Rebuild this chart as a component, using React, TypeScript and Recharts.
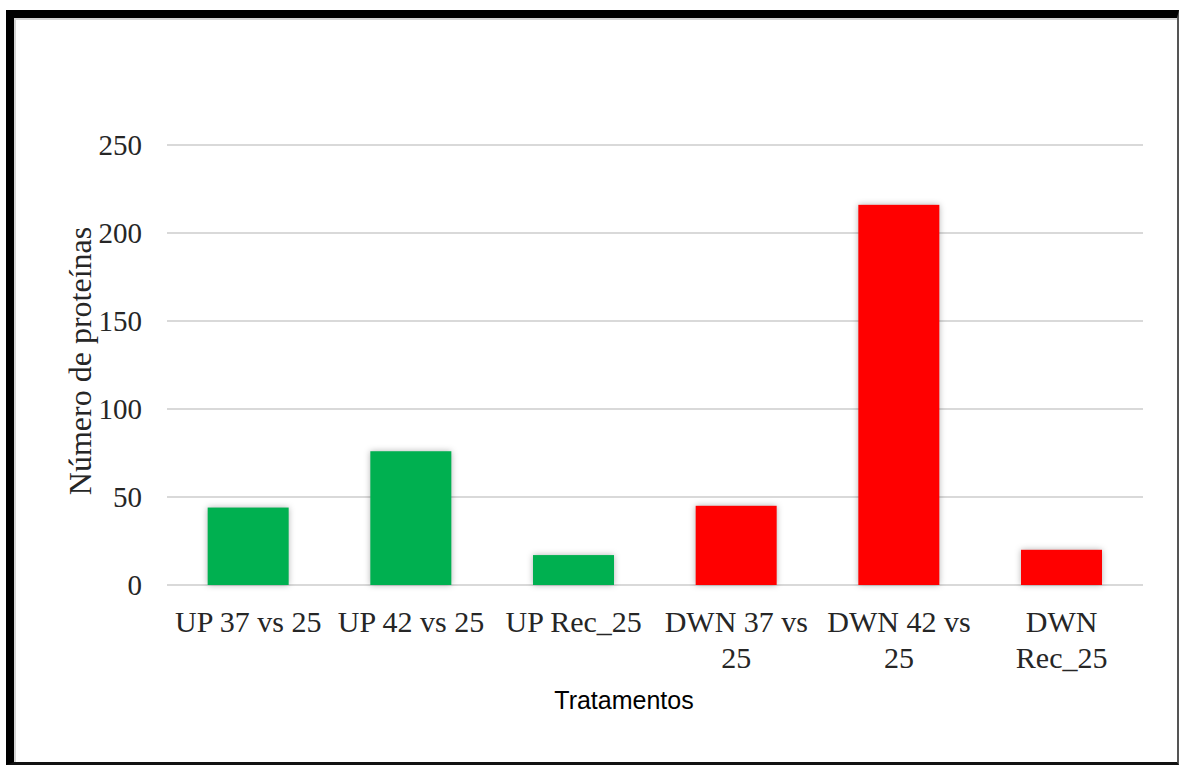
import React from 'react';
import { BarChart, Bar, XAxis, YAxis, CartesianGrid, Cell } from 'recharts';

// Número de proteínas por tratamento
const categories = ['UP 37 vs 25', 'UP 42 vs 25', 'UP Rec_25', 'DWN 37 vs\n25', 'DWN 42 vs\n25', 'DWN\nRec_25'];
const proteinCounts = [44, 76, 17, 45, 216, 20];
const barColors = ['#00B050', '#00B050', '#00B050', '#FF0000', '#FF0000', '#FF0000'];
const yTicks = [0, 50, 100, 150, 200, 250];

const data = categories.map((name, i) => ({ name, value: proteinCounts[i] }));

const SERIF = '"Liberation Serif", "Times New Roman", serif';
const SANS = '"Liberation Sans", Arial, sans-serif';

const CategoryTick = (props: any) => {
  const { x, y, payload } = props;
  const lines = String(payload.value).split('\n');
  return (
    <text x={x} y={y} textAnchor="middle" fill="#262626" fontFamily={SERIF} fontSize={30}>
      {lines.map((line, i) => (
        <tspan key={i} x={x} dy={i === 0 ? 21 : 36}>
          {line}
        </tspan>
      ))}
    </text>
  );
};

const YTitle = (props: any) => {
  const { viewBox } = props;
  const cx = 80;
  const cy = viewBox.y + viewBox.height / 2 - 4;
  return (
    <text
      x={cx}
      y={cy}
      transform={`rotate(-90 ${cx} ${cy})`}
      textAnchor="middle"
      dominantBaseline="central"
      fill="#262626"
      fontFamily={SERIF}
      fontSize={32}
    >
      Número de proteínas
    </text>
  );
};

const XTitle = (props: any) => {
  const { viewBox } = props;
  const cx = viewBox.x + viewBox.width / 2 - 31;
  return (
    <text x={cx} y={709} textAnchor="middle" fill="#000" fontFamily={SANS} fontSize={25}>
      Tratamentos
    </text>
  );
};

const ShadowBar = (props: any) => {
  const { x, y, width, height, fill } = props;
  return (
    <rect
      x={x}
      y={y}
      width={width}
      height={height}
      fill={fill}
      style={{ filter: 'drop-shadow(0px 0px 3px rgba(0,0,0,0.3))' }}
    />
  );
};

const App: React.FC = () => {
  return (
    <div style={{ position: 'absolute', left: 0, top: 0, width: 1180, height: 767, background: '#fff' }}>
      <div
        style={{
          position: 'absolute',
          left: 6,
          top: 10,
          width: 1173 - 10,
          height: 755 - 11,
          borderLeft: '8px solid #000',
          borderTop: '8px solid #000',
          borderRight: '2px solid #555',
          borderBottom: '3px solid #111',
          boxShadow: 'inset 2px 2px 0 #d4d4d4',
        }}
      />
      <div style={{ position: 'absolute', left: 0, top: 0 }}>
        <BarChart
          width={1180}
          height={767}
          data={data}
          margin={{ top: 145, right: 37, bottom: 0, left: 0 }}
          barCategoryGap="25%"
        >
          <CartesianGrid vertical={false} stroke="#d9d9d9" strokeWidth={2} />
          <XAxis
            dataKey="name"
            axisLine={false}
            tickLine={false}
            height={182}
            interval={0}
            tick={<CategoryTick />}
            tickMargin={20}
            label={<XTitle />}
          />
          <YAxis
            domain={[0, 250]}
            ticks={yTicks}
            width={167}
            axisLine={false}
            tickLine={false}
            tickMargin={19}
            tick={{ fill: '#262626', fontFamily: SERIF, fontSize: 29 }}
            label={<YTitle />}
          />
          <Bar dataKey="value" isAnimationActive={false} shape={<ShadowBar />}>
            {data.map((d, i) => (
              <Cell key={d.name} fill={barColors[i]} />
            ))}
          </Bar>
        </BarChart>
      </div>
    </div>
  );
};

export default App;
